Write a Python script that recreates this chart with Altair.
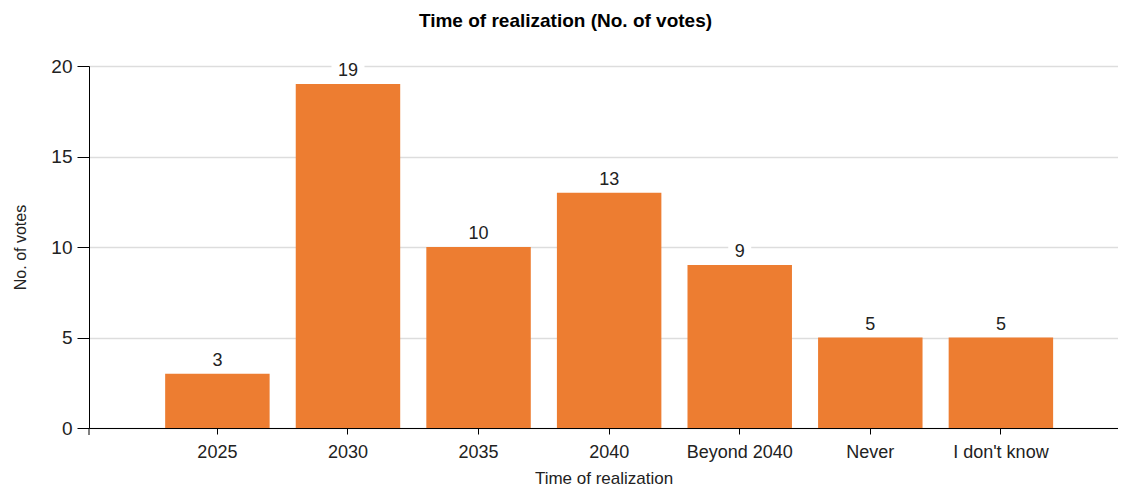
import altair as alt
import pandas as pd

categories = ["2025", "2030", "2035", "2040", "Beyond 2040", "Never", "I don't know"]
votes = [3, 19, 10, 13, 9, 5, 5]
y_ticks = [0, 5, 10, 15, 20]

df = pd.DataFrame({"category": categories, "votes": votes})

FONT = "Liberation Sans, Arial, sans-serif"
TXT = "#222222"
W, H = 1029, 362

x_enc = alt.X(
    "category:N",
    sort=categories,
    title="Time of realization",
    scale=alt.Scale(paddingInner=0.2, paddingOuter=0.54, align=0.54),
    axis=alt.Axis(
        labelAngle=0, tickSize=6, labelPadding=9, domainColor="black",
        tickColor="black", labelFontSize=18, labelFont=FONT, labelColor=TXT,
        titleFontSize=17, titleFont=FONT, titleFontWeight="normal",
        titleColor=TXT, titlePadding=9, grid=False,
    ),
)
y_enc = alt.Y(
    "votes:Q",
    title="No. of votes",
    scale=alt.Scale(domain=[0, 20], nice=False),
    axis=alt.Axis(
        values=y_ticks, tickSize=12, labelPadding=5, domainColor="black",
        tickColor="black", gridColor="#dddddd", gridWidth=1.5,
        labelFontSize=19, labelFont=FONT, labelColor=TXT,
        titleFontSize=16, titleFont=FONT, titleFontWeight="normal",
        titleColor=TXT, titlePadding=22,
    ),
)

base = alt.Chart(df)

bars = base.mark_bar(color="#ED7D31").encode(x=x_enc, y=y_enc)

label_bg = base.transform_calculate(
    w="length(toString(datum.votes)) * 10 + 13"
).mark_tick(color="white", opacity=1, thickness=20, yOffset=-16).encode(
    x=alt.X("category:N", sort=categories),
    y=alt.Y("votes:Q"),
    size=alt.Size("w:Q", scale=None, legend=None),
)

labels = base.mark_text(
    dy=-8, baseline="alphabetic", fontSize=18, font=FONT, color=TXT
).encode(
    x=alt.X("category:N", sort=categories),
    y=alt.Y("votes:Q"),
    text=alt.Text("votes:Q"),
)

outer_tick = alt.Chart(pd.DataFrame({"k": [0]})).mark_rule(color="black").encode(
    x=alt.value(0), y=alt.value(H), y2=alt.value(H + 7)
)

chart = (
    alt.layer(bars, label_bg, labels, outer_tick)
    .properties(
        width=W,
        height=H,
        autosize=alt.AutoSizeParams(type="none"),
        padding={"left": 81, "top": 58, "right": 0, "bottom": 60},
        title=alt.TitleParams(
            "Time of realization (No. of votes)",
            fontSize=19, font=FONT, fontWeight="bold", color="black",
            anchor="middle", dx=-38, offset=26,
        ),
    )
    .configure_view(stroke=None)
    .configure(background="white")
)

chart.save("out.html", embed_options={"renderer": "svg", "actions": False})
